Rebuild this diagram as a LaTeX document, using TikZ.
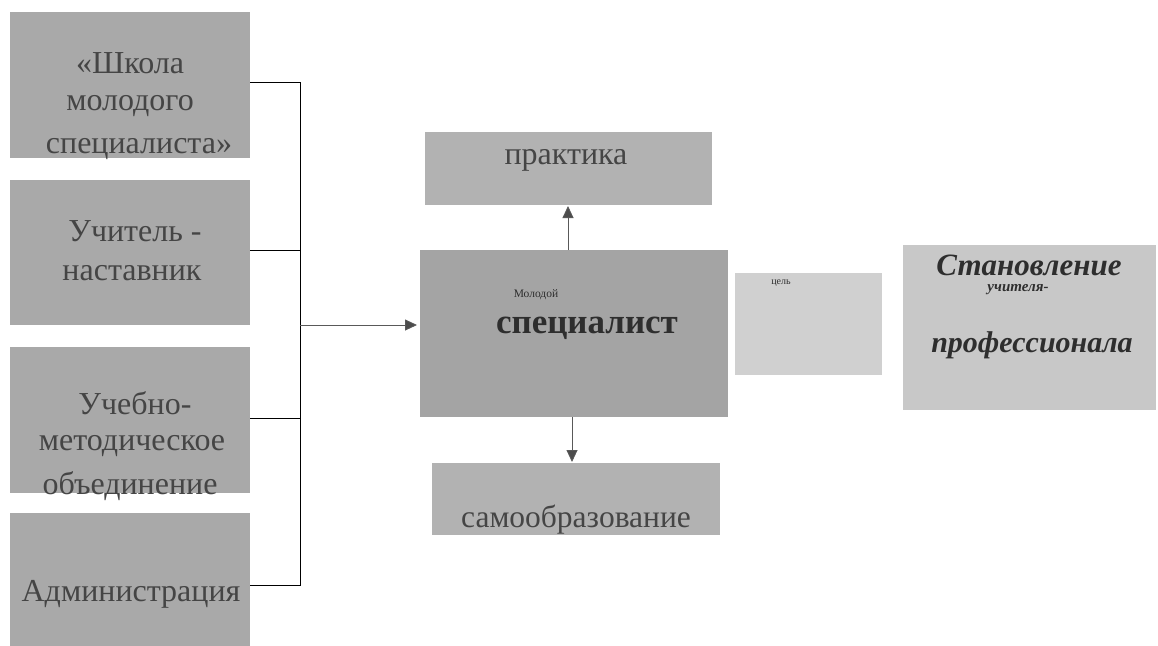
\documentclass[tikz,border=0pt]{standalone}
\usepackage{fontspec}
\setmainfont{Liberation Serif}
\usetikzlibrary{arrows.meta}
\definecolor{boxL}{HTML}{A9A9A9}
\definecolor{boxC}{HTML}{A4A4A4}
\definecolor{boxP}{HTML}{B2B2B2}
\definecolor{boxG}{HTML}{D0D0D0}
\definecolor{boxS}{HTML}{C8C8C8}
\definecolor{txt}{HTML}{454545}
\definecolor{txtd}{HTML}{2E2E2E}
\tikzset{
  box/.style={draw=none, inner sep=0pt, anchor=north west},
  lbl/.style={inner sep=0pt, text=txt, font=\fontsize{32}{32}\selectfont},
  conn/.style={draw=black, line width=1pt},
  arr/.style={draw=gray!70!black, line width=0.9pt, -{Triangle[length=12pt,width=11pt,fill=gray!60!black]}}
}
\begin{document}
\begin{tikzpicture}[x=1pt,y=-1pt]
\useasboundingbox (0,0) rectangle (1158,645);
\clip (0,0) rectangle (1158,645);
% left boxes
\node[box, fill=boxL, minimum width=240pt, minimum height=146pt] (b1) at (10,12) {};
\node[box, fill=boxL, minimum width=240pt, minimum height=145pt] (b2) at (10,180) {};
\node[box, fill=boxL, minimum width=240pt, minimum height=146pt] (b3) at (10,347) {};
\node[box, fill=boxL, minimum width=240pt, minimum height=145pt] (b4) at (10,513) {};
\node[lbl] (t1a) at (130,63) {«Школа};
\node[lbl] (t1b) at (130,106) {молодого};
\node[lbl] (t1c) at (139,149) {специалиста»};
\node[lbl] (t2a) at (135,231) {Учитель -};
\node[lbl] (t2b) at (132,273) {наставник};
\node[lbl] (t3a) at (135,403) {Учебно-};
\node[lbl] (t3b) at (132,446) {методическое};
\node[lbl] (t3c) at (130,486) {объединение};
\node[lbl] (t4a) at (131,594) {Администрация};
% centre
\node[box, fill=boxP, minimum width=287pt, minimum height=73pt] (pr) at (425,132) {};
\node[lbl] (prt) at (566,160) {практика};
\node[box, fill=boxC, minimum width=308pt, minimum height=167pt] (sp) at (420,250) {};
\node[inner sep=0pt, text=txtd, font=\fontsize{11.5}{11.5}\selectfont] (spa) at (536,295) {Молодой};
\node[inner sep=0pt, text=txtd, font=\bfseries\fontsize{35}{35}\selectfont] (spb) at (587,328) {специалист};
\node[box, fill=boxP, minimum width=288pt, minimum height=72pt] (sa) at (432,463) {};
\node[lbl, font=\fontsize{31.5}{31.5}\selectfont] (sat) at (576,520) {самообразование};
% right
\node[box, fill=boxG, minimum width=147pt, minimum height=102pt] (ts) at (735,273) {};
\node[inner sep=0pt, text=txtd, font=\fontsize{10}{10}\selectfont] (tst) at (781,283) {цель};
\node[box, fill=boxS, minimum width=253pt, minimum height=165pt] (st) at (903,245) {};
\node[inner sep=0pt, text=txtd, font=\bfseries\itshape\fontsize{31}{31}\selectfont] (sta) at (1029,265) {Становление};
\node[inner sep=0pt, text=txtd, font=\bfseries\itshape\fontsize{15}{15}\selectfont] (stb) at (1018,290) {учителя-};
\node[inner sep=0pt, text=txtd, font=\bfseries\itshape\fontsize{30}{30}\selectfont] (stc) at (1032,345) {профессионала};
% connectors
\coordinate (j1) at (300,82);
\coordinate (j2) at (300,250);
\coordinate (j3) at (300,418);
\coordinate (j4) at (300,585);
\coordinate (ja) at (300,325);
\coordinate (ja2) at (417,325);
\draw[conn] (b1.east |- j1) -- (j1) -- (j4) -- (b4.east |- j4);
\draw[conn] (b2.east |- j2) -- (j2);
\draw[conn] (b3.east |- j3) -- (j3);
\draw[arr] (ja) -- (ja2);
\coordinate (u1) at (568,250);
\coordinate (u2) at (568,206);
\draw[arr] (u1) -- (u2);
\coordinate (d1) at (572,417);
\coordinate (d2) at (572,462);
\draw[arr] (d1) -- (d2);
\end{tikzpicture}
\end{document}
